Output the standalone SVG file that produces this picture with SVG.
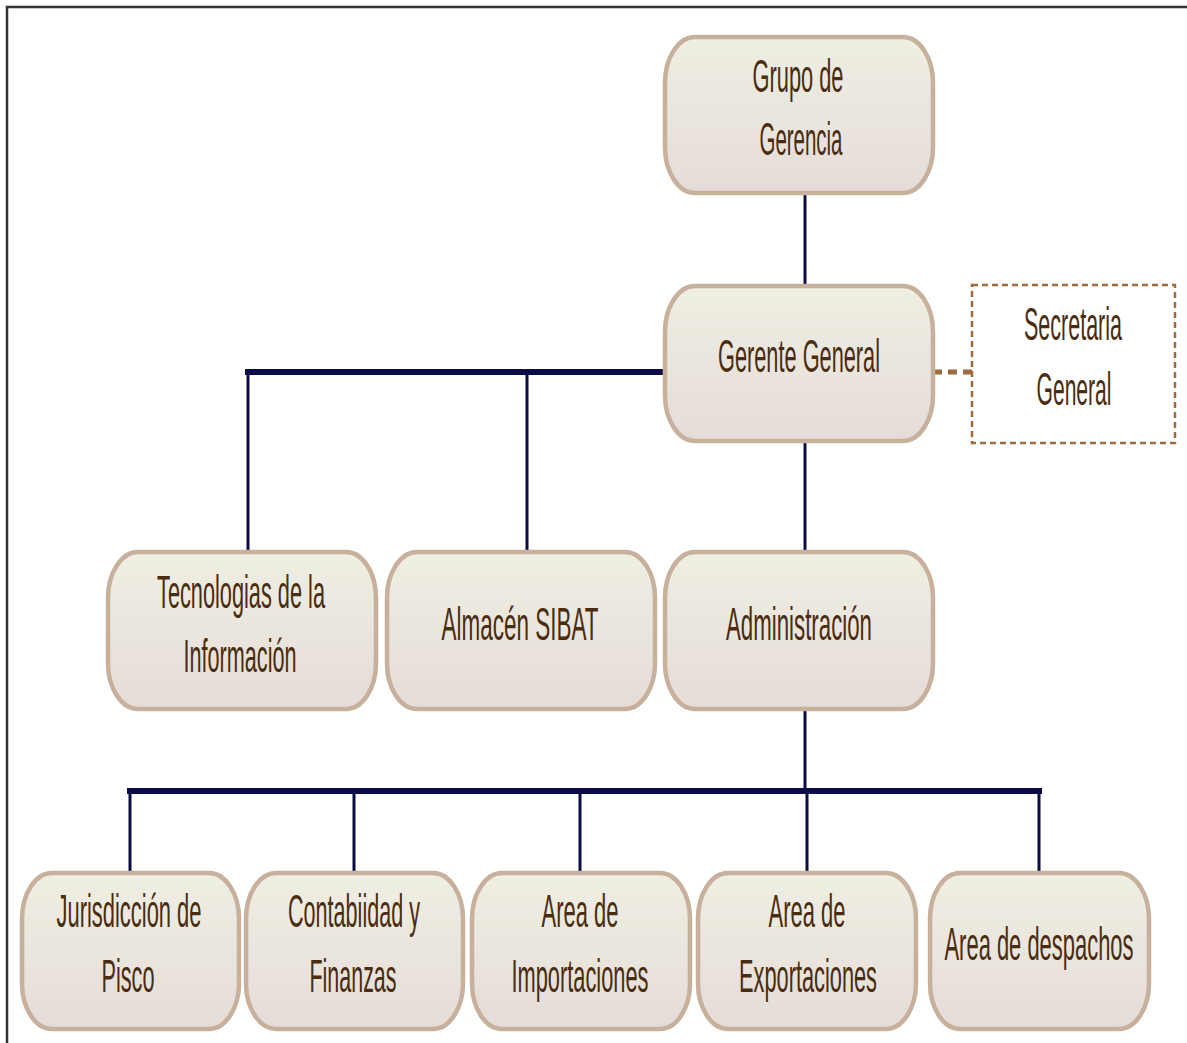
<svg xmlns="http://www.w3.org/2000/svg" width="1187" height="1043" viewBox="0 0 1187 1043">
<defs>
<linearGradient id="g" x1="0" y1="0" x2="0" y2="1">
<stop offset="0" stop-color="#efefe3"/>
<stop offset="1" stop-color="#e5dcd7"/>
</linearGradient>
<style>
.n{fill:url(#g);stroke:#c7b19c;stroke-width:4.5}
.t{font-family:"Liberation Sans",Arial,sans-serif;font-size:47px;fill:#4a2c10;text-anchor:middle}
.c{stroke:#0b0b45;fill:none}
.th{stroke-width:6}
.tn{stroke-width:3}
</style>
</defs>
<rect x="7" y="7" width="1200" height="1100" fill="#fff" stroke="#333" stroke-width="2.5"/>
<g id="connectors">
<line class="c tn" x1="805" y1="193" x2="805" y2="286"/>
<line class="c th" x1="245" y1="372" x2="665" y2="372"/>
<line class="c tn" x1="248" y1="372" x2="248" y2="552"/>
<line class="c tn" x1="527" y1="372" x2="527" y2="552"/>
<line class="c tn" x1="805" y1="441" x2="805" y2="552"/>
<line class="c tn" x1="805" y1="709" x2="805" y2="791"/>
<line class="c th" x1="127" y1="791" x2="1042" y2="791"/>
<line class="c tn" x1="130" y1="791" x2="130" y2="873"/>
<line class="c tn" x1="354" y1="791" x2="354" y2="873"/>
<line class="c tn" x1="580" y1="791" x2="580" y2="873"/>
<line class="c tn" x1="807" y1="791" x2="807" y2="873"/>
<line class="c tn" x1="1039" y1="791" x2="1039" y2="873"/>
<line x1="933" y1="372" x2="972" y2="372" stroke="#9c6a3c" stroke-width="5" stroke-dasharray="9 6"/>
</g>
<g id="grupo">
<rect class="n" x="665" y="37" width="268" height="156" rx="30" ry="46"/>
<text class="t" transform="translate(798 92) scale(0.46 1)" textLength="197.8" lengthAdjust="spacingAndGlyphs">Grupo de</text>
<text class="t" transform="translate(801 155) scale(0.46 1)" textLength="180.4" lengthAdjust="spacingAndGlyphs">Gerencia</text>
</g>
<g id="gerente">
<rect class="n" x="665" y="286" width="268" height="155" rx="30" ry="46"/>
<text class="t" transform="translate(799 372) scale(0.46 1)" textLength="352.2" lengthAdjust="spacingAndGlyphs">Gerente General</text>
</g>
<g id="secretaria">
<rect x="972" y="285" width="203" height="158" fill="#fff" stroke="#9c6a3c" stroke-width="2.5" stroke-dasharray="6 4"/>
<text class="t" transform="translate(1073 340) scale(0.46 1)" textLength="213" lengthAdjust="spacingAndGlyphs">Secretaria</text>
<text class="t" transform="translate(1074 405) scale(0.46 1)" textLength="163" lengthAdjust="spacingAndGlyphs">General</text>
</g>
<g id="tecnologias">
<rect class="n" x="108" y="552" width="268" height="157" rx="30" ry="46"/>
<text class="t" transform="translate(241 608) scale(0.46 1)" textLength="365.2" lengthAdjust="spacingAndGlyphs">Tecnologias de la</text>
<text class="t" transform="translate(240 672) scale(0.46 1)" textLength="245.7" lengthAdjust="spacingAndGlyphs">Información</text>
</g>
<g id="almacen">
<rect class="n" x="387" y="552" width="268" height="157" rx="30" ry="46"/>
<text class="t" transform="translate(520 640) scale(0.46 1)" textLength="341.3" lengthAdjust="spacingAndGlyphs">Almacén SIBAT</text>
</g>
<g id="administracion">
<rect class="n" x="665" y="552" width="268" height="157" rx="30" ry="46"/>
<text class="t" transform="translate(799 640) scale(0.46 1)" textLength="317.4" lengthAdjust="spacingAndGlyphs">Administración</text>
</g>
<g id="jurisdiccion">
<rect class="n" x="22" y="873" width="217" height="156" rx="30" ry="46"/>
<text class="t" transform="translate(129 927) scale(0.46 1)" textLength="315.2" lengthAdjust="spacingAndGlyphs">Jurisdicción de</text>
<text class="t" transform="translate(128 992) scale(0.46 1)" textLength="115.2" lengthAdjust="spacingAndGlyphs">Pisco</text>
</g>
<g id="contabilidad">
<rect class="n" x="246" y="873" width="217" height="156" rx="30" ry="46"/>
<text class="t" transform="translate(354 927) scale(0.46 1)" textLength="287" lengthAdjust="spacingAndGlyphs">Contabiidad y</text>
<text class="t" transform="translate(353 992) scale(0.46 1)" textLength="189.1" lengthAdjust="spacingAndGlyphs">Finanzas</text>
</g>
<g id="importaciones">
<rect class="n" x="472" y="873" width="218" height="156" rx="30" ry="46"/>
<text class="t" transform="translate(580 927) scale(0.46 1)" textLength="167.4" lengthAdjust="spacingAndGlyphs">Area de</text>
<text class="t" transform="translate(580 992) scale(0.46 1)" textLength="297.8" lengthAdjust="spacingAndGlyphs">Importaciones</text>
</g>
<g id="exportaciones">
<rect class="n" x="698" y="873" width="218" height="156" rx="30" ry="46"/>
<text class="t" transform="translate(807 927) scale(0.46 1)" textLength="167.4" lengthAdjust="spacingAndGlyphs">Area de</text>
<text class="t" transform="translate(808 992) scale(0.46 1)" textLength="300" lengthAdjust="spacingAndGlyphs">Exportaciones</text>
</g>
<g id="despachos">
<rect class="n" x="930" y="873" width="219" height="156" rx="30" ry="46"/>
<text class="t" transform="translate(1039 960) scale(0.46 1)" textLength="410.9" lengthAdjust="spacingAndGlyphs">Area de despachos</text>
</g>
</svg>
